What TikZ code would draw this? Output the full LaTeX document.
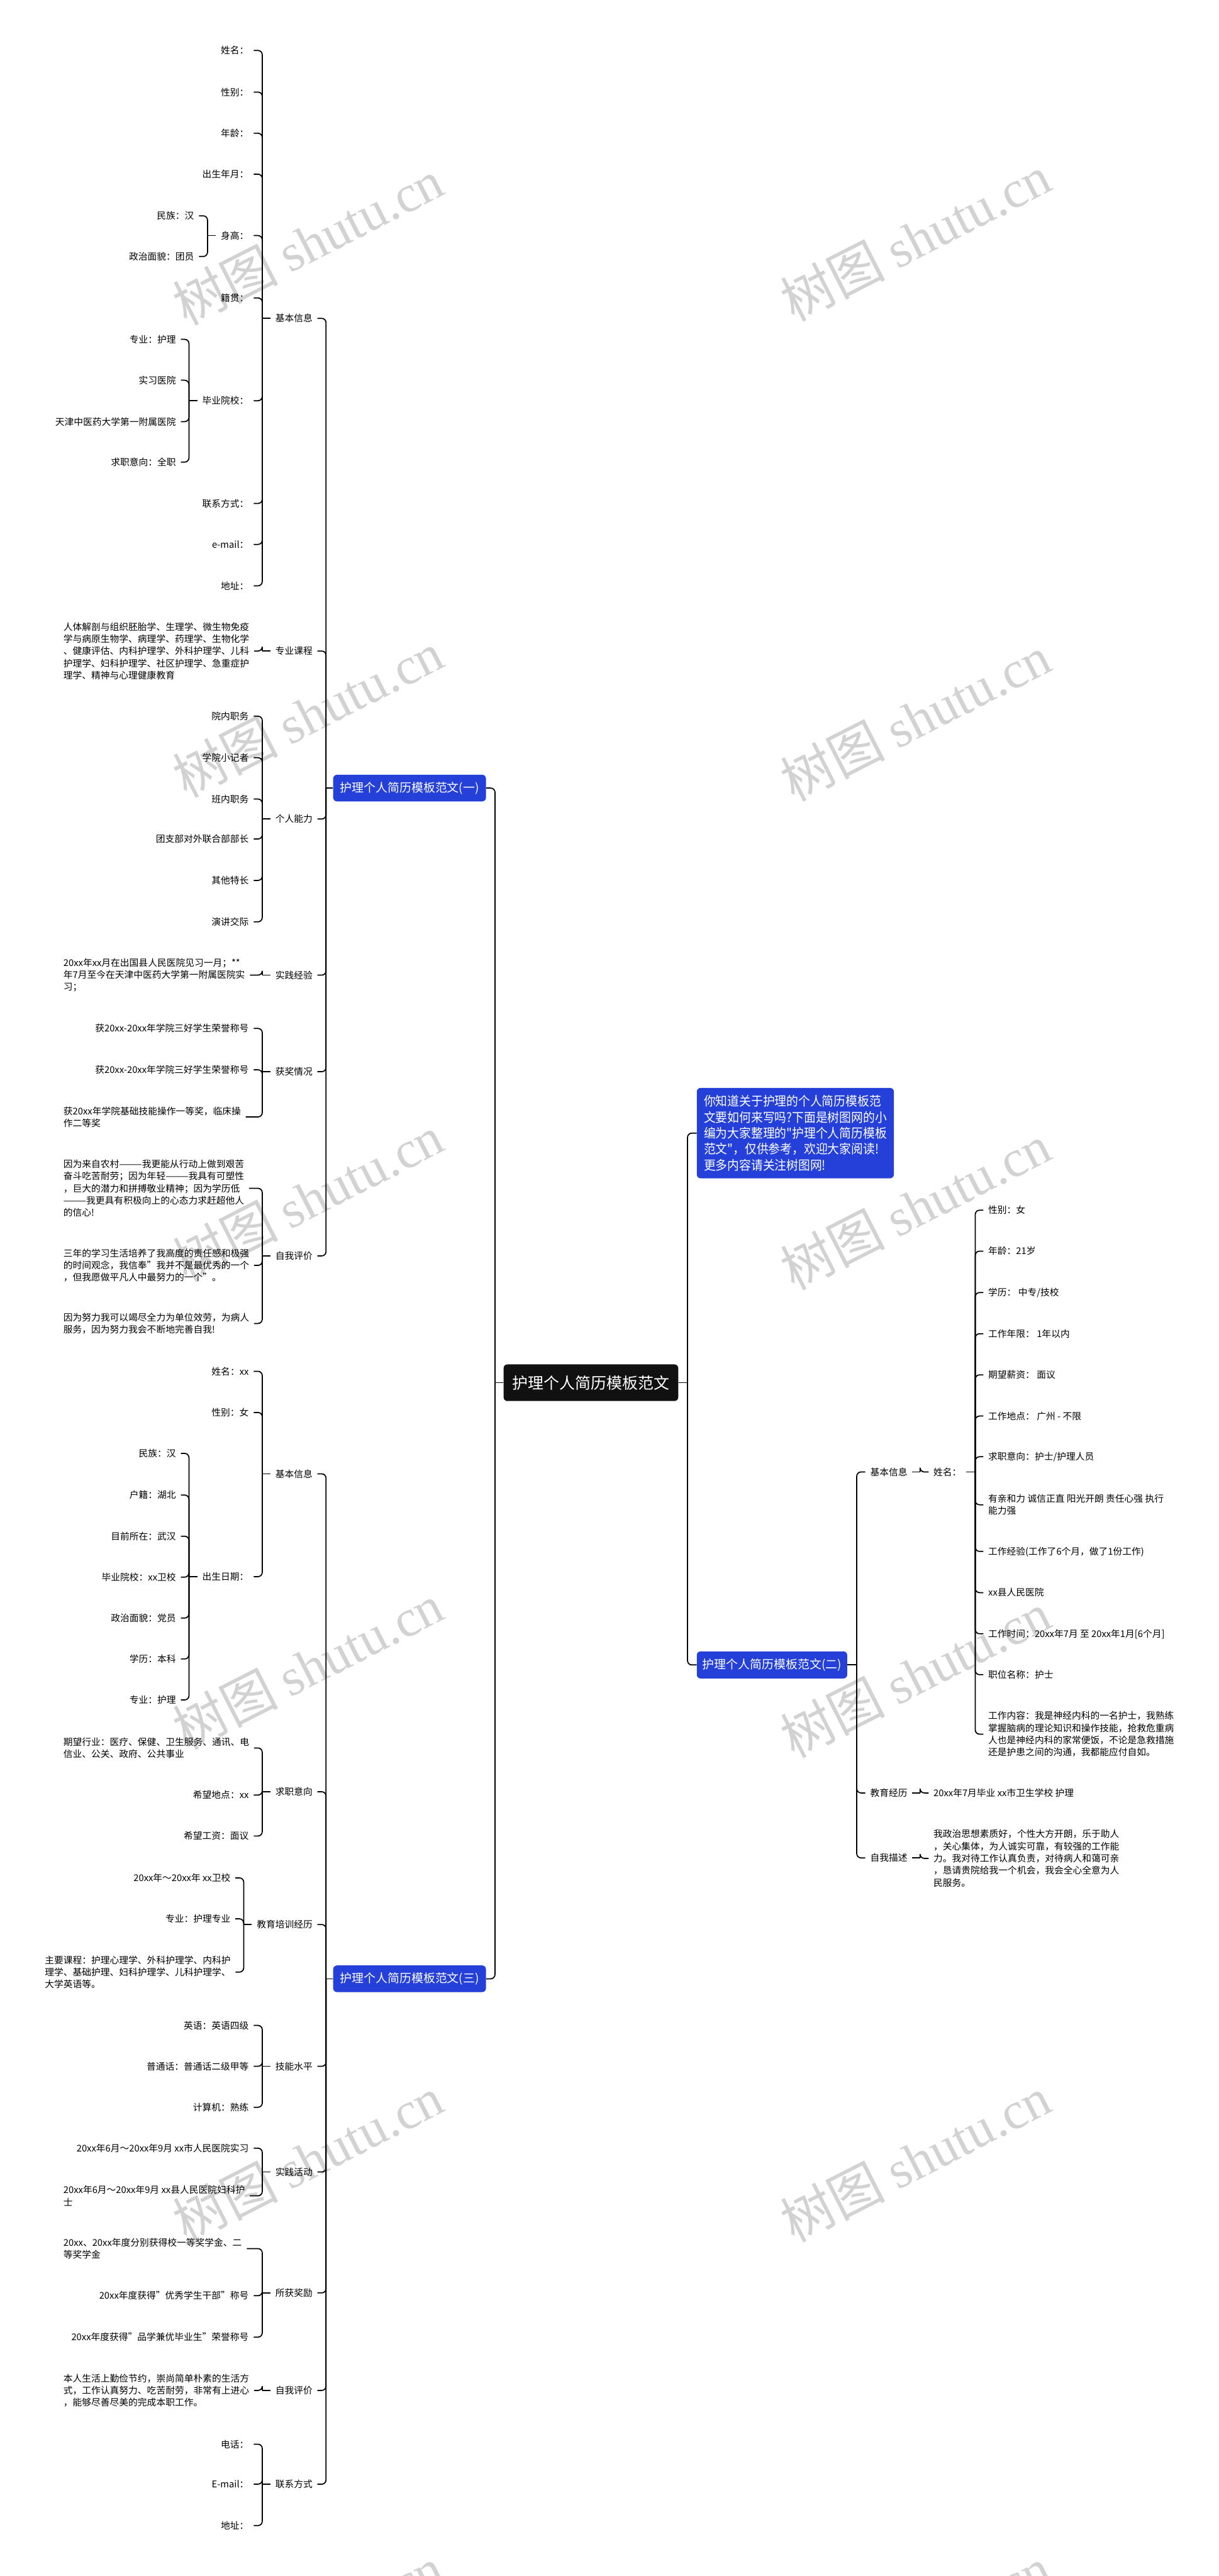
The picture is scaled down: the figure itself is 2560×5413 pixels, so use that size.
\documentclass[tikz,border=0pt]{standalone}
\usepackage{fontspec}
\setmainfont{Noto Sans CJK SC}
\newfontfamily\narrowcjk[FakeStretch=0.92]{Noto Sans CJK SC}
\newfontfamily\wmser{Liberation Serif}
\usetikzlibrary{calc}
\definecolor{boxblue}{HTML}{2440D9}
\definecolor{wmgray}{HTML}{D2D2D2}
\definecolor{rootfill}{HTML}{111111}
\newcommand\lkids[4][10]{%
  \coordinate (sp) at (#3,0);
  \draw[conn] (sp |- #2.west) -- ($(#2.west)+(-#1,0)$);
  \foreach \kid in {#4}{\draw[conn] ($(\kid.east)+(10,0)$) -| (sp |- #2.west);}
}
\newcommand\rkids[4][10]{%
  \coordinate (sp) at (#3,0);
  \draw[conn] ($(#2.east)+(#1,0)$) -- (sp |- #2.east);
  \foreach \kid in {#4}{\draw[conn] ($(\kid.west)+(-10,0)$) -| (sp |- #2.east);}
}
\begin{document}
\begin{tikzpicture}[x=0.5pt,y=-0.5pt,
  conn/.style={line width=1.15pt, rounded corners=4.5pt, black},
  lbl/.style={inner sep=0pt, font=\fontsize{9.75pt}{12.75pt}\selectfont, text height=8.6pt, text depth=1.2pt},
  para/.style={inner sep=0pt, font=\fontsize{9.75pt}{12.75pt}\selectfont, align=left},
  lft/.style={anchor=east}, rgt/.style={anchor=west},
  bbox/.style={fill=boxblue, text=white, rounded corners=4pt, inner sep=0pt, font=\fontsize{12.5pt}{15pt}\selectfont},
  wm/.style={text=wmgray, rotate=27, inner sep=0pt, font=\fontsize{55pt}{60pt}\selectfont}
]
\useasboundingbox (0,0) rectangle (2560,5413);
\clip (0,0) rectangle (2560,5413);
\fill[white] (0,0) rectangle (2560,5413);

% watermarks
\foreach \wx/\wy [count=\i] in {647/509,1923/500,647/1501,1923/1509,647/2518,1923/2536,647/3502,1923/3519,647/4537,1923/4537,647/5525,1923/5525}
  \node[wm] (wm\i) at (\wx,\wy) {树图 {\wmser shutu.cn}};

% ---------- center ----------
\node[fill=rootfill, text=white, rounded corners=4pt, inner sep=0pt, minimum width=183.5pt, minimum height=38.5pt, font=\fontsize{16.5pt}{19pt}\selectfont] (cn) at (1241.5,2905.5) {护理个人简历模板范文};

\node[bbox, minimum width=207pt, minimum height=95pt, align=left, font=\narrowcjk\fontsize{13.5pt}{16.75pt}\selectfont] (intro) at (1671,2381) {你知道关于护理的个人简历模板范\\文要如何来写吗?下面是树图网的小\\编为大家整理的"护理个人简历模板\\范文"，仅供参考，欢迎大家阅读!\\更多内容请关注树图网!};

\node[bbox, minimum width=160.5pt, minimum height=28pt] (b1) at (860.5,1656) {护理个人简历模板范文(一)};
\node[bbox, minimum width=158pt, minimum height=28.5pt] (b2) at (1622,3498.5) {护理个人简历模板范文(二)};
\node[bbox, minimum width=160.5pt, minimum height=28pt] (b3) at (860.5,4158) {护理个人简历模板范文(三)};

\coordinate (lsp) at (1040,0);
\coordinate (rsp) at (1444.5,0);
\draw[conn] (cn.west) -- (lsp |- cn.west);
\draw[conn] (b1.east) -| (lsp |- cn.west);
\draw[conn] (b3.east) -| (lsp |- cn.west);
\draw[conn] (cn.east) -- (rsp |- cn.east);
\draw[conn] (intro.west) -| (rsp |- cn.east);
\draw[conn] (b2.west) -| (rsp |- cn.east);

% ---------- branch 1 ----------
\node[lbl,lft] (a1) at (657,669) {基本信息};
\node[lbl,lft] (a2) at (657,1368) {专业课程};
\node[lbl,lft] (a3) at (657,1721) {个人能力};
\node[lbl,lft] (a4) at (657,2049) {实践经验};
\node[lbl,lft] (a5) at (657,2252) {获奖情况};
\node[lbl,lft] (a6) at (657,2639) {自我评价};
\lkids[0]{b1}{685}{a1,a2,a3,a4,a5,a6}

\node[lbl,lft] (a11) at (523,106) {姓名：};
\node[lbl,lft] (a12) at (523,193.5) {性别：};
\node[lbl,lft] (a13) at (523,280) {年龄：};
\node[lbl,lft] (a14) at (523,366) {出生年月：};
\node[lbl,lft] (a15) at (523,495) {身高：};
\node[lbl,lft] (a16) at (523,626) {籍贯：};
\node[lbl,lft] (a17) at (523,842) {毕业院校：};
\node[lbl,lft] (a18) at (523,1058) {联系方式：};
\node[lbl,lft] (a19) at (523,1144) {e-mail：};
\node[lbl,lft] (a1x) at (523,1231) {地址：};
\lkids{a1}{551}{a11,a12,a13,a14,a15,a16,a17,a18,a19,a1x}

\node[lbl,lft] (a151) at (408,453.5) {民族：汉};
\node[lbl,lft] (a152) at (408,539) {政治面貌：团员};
\lkids{a15}{436}{a151,a152}

\node[lbl,lft] (a171) at (370,713) {专业：护理};
\node[lbl,lft] (a172) at (370,799) {实习医院};
\node[lbl,lft] (a173) at (370,886) {天津中医药大学第一附属医院};
\node[lbl,lft] (a174) at (370,971) {求职意向：全职};
\lkids{a17}{397}{a171,a172,a173,a174}

\node[para,rgt] (a21) at (133,1368) {人体解剖与组织胚胎学、生理学、微生物免疫\\学与病原生物学、病理学、药理学、生物化学\\、健康评估、内科护理学、外科护理学、儿科\\护理学、妇科护理学、社区护理学、急重症护\\理学、精神与心理健康教育};
\lkids{a2}{551}{a21}

\node[lbl,lft] (a31) at (523,1505) {院内职务};
\node[lbl,lft] (a32) at (523,1592) {学院小记者};
\node[lbl,lft] (a33) at (523,1679) {班内职务};
\node[lbl,lft] (a34) at (523,1763) {团支部对外联合部部长};
\node[lbl,lft] (a35) at (523,1850) {其他特长};
\node[lbl,lft] (a36) at (523,1937) {演讲交际};
\lkids{a3}{551}{a31,a32,a33,a34,a35,a36}

\node[para,rgt] (a41) at (133,2049) {20xx年xx月在出国县人民医院见习一月；**\\年7月至今在天津中医药大学第一附属医院实\\习；};
\lkids{a4}{551}{a41}

\node[lbl,lft] (a51) at (523,2161) {获20xx-20xx年学院三好学生荣誉称号};
\node[lbl,lft] (a52) at (523,2248) {获20xx-20xx年学院三好学生荣誉称号};
\node[para,rgt] (a53) at (133,2347) {获20xx年学院基础技能操作一等奖，临床操\\作二等奖};
\lkids{a5}{551}{a51,a52,a53}

\node[para,rgt] (a61) at (133,2497) {因为来自农村———我更能从行动上做到艰苦\\奋斗吃苦耐劳；因为年轻———我具有可塑性\\，巨大的潜力和拼搏敬业精神；因为学历低\\———我更具有积极向上的心态力求赶超他人\\的信心!};
\node[para,rgt] (a62) at (133,2659) {三年的学习生活培养了我高度的责任感和极强\\的时间观念，我信奉"我并不是最优秀的一个\\，但我愿做平凡人中最努力的一个"。};
\node[para,rgt] (a63) at (133,2781) {因为努力我可以竭尽全力为单位效劳，为病人\\服务，因为努力我会不断地完善自我!};
\lkids{a6}{551}{a61,a62,a63}

% ---------- branch 3 ----------
\node[lbl,lft] (c1) at (657,3097) {基本信息};
\node[lbl,lft] (c2) at (657,3765) {求职意向};
\node[lbl,lft] (c3) at (657,4044) {教育培训经历};
\node[lbl,lft] (c4) at (657,4342) {技能水平};
\node[lbl,lft] (c5) at (657,4564) {实践活动};
\node[lbl,lft] (c6) at (657,4818) {所获奖励};
\node[lbl,lft] (c7) at (657,5023) {自我评价};
\node[lbl,lft] (c8) at (657,5220) {联系方式};
\lkids[0]{b3}{685}{c1,c2,c3,c4,c5,c6,c7,c8}

\node[lbl,lft] (c11) at (523,2881.5) {姓名：xx};
\node[lbl,lft] (c12) at (523,2968) {性别：女};
\node[lbl,lft] (c13) at (523,3313) {出生日期：};
\lkids{c1}{551}{c11,c12,c13}

\node[lbl,lft] (c131) at (370,3054) {民族：汉};
\node[lbl,lft] (c132) at (370,3141.5) {户籍：湖北};
\node[lbl,lft] (c133) at (370,3228) {目前所在：武汉};
\node[lbl,lft] (c134) at (370,3314) {毕业院校：xx卫校};
\node[lbl,lft] (c135) at (370,3400) {政治面貌：党员};
\node[lbl,lft] (c136) at (370,3486) {学历：本科};
\node[lbl,lft] (c137) at (370,3572) {专业：护理};
\lkids{c13}{397}{c131,c132,c133,c134,c135,c136,c137}

\node[para,rgt] (c21) at (133,3673) {期望行业：医疗、保健、卫生服务、通讯、电\\信业、公关、政府、公共事业};
\node[lbl,lft] (c22) at (523,3772) {希望地点：xx};
\node[lbl,lft] (c23) at (523,3858) {希望工资：面议};
\lkids{c2}{551}{c21,c22,c23}

\node[lbl,lft] (c31) at (484.5,3946) {20xx年～20xx年 xx卫校};
\node[lbl,lft] (c32) at (484.5,4032) {专业：护理专业};
\node[para,rgt] (c33) at (94,4144) {主要课程：护理心理学、外科护理学、内科护\\理学、基础护理、妇科护理学、儿科护理学、\\大学英语等。};
\lkids{c3}{512}{c31,c32,c33}

\node[lbl,lft] (c41) at (523,4256) {英语：英语四级};
\node[lbl,lft] (c42) at (523,4342) {普通话：普通话二级甲等};
\node[lbl,lft] (c43) at (523,4428) {计算机：熟练};
\lkids{c4}{551}{c41,c42,c43}

\node[lbl,lft] (c51) at (523,4514) {20xx年6月～20xx年9月 xx市人民医院实习};
\node[para,rgt] (c52) at (133,4614) {20xx年6月～20xx年9月 xx县人民医院妇科护\\士};
\lkids{c5}{551}{c51,c52}

\node[para,rgt] (c61) at (133,4725) {20xx、20xx年度分别获得校一等奖学金、二\\等奖学金};
\node[lbl,lft] (c62) at (523,4824) {20xx年度获得"优秀学生干部"称号};
\node[lbl,lft] (c63) at (523,4911) {20xx年度获得"品学兼优毕业生"荣誉称号};
\lkids{c6}{551}{c61,c62,c63}

\node[para,rgt] (c71) at (133,5023) {本人生活上勤俭节约，崇尚简单朴素的生活方\\式，工作认真努力、吃苦耐劳，非常有上进心\\，能够尽善尽美的完成本职工作。};
\lkids{c7}{551}{c71}

\node[lbl,lft] (c81) at (523,5136) {电话：};
\node[lbl,lft] (c82) at (523,5220) {E-mail：};
\node[lbl,lft] (c83) at (523,5307) {地址：};
\lkids{c8}{551}{c81,c82,c83}

% ---------- branch 2 ----------
\node[lbl,rgt] (d1) at (1828,3093) {基本信息};
\node[lbl,rgt] (d2) at (1828,3767.5) {教育经历};
\node[lbl,rgt] (d3) at (1828,3904) {自我描述};
\rkids[0]{b2}{1800}{d1,d2,d3}

\node[lbl,rgt] (d11) at (1961,3093) {姓名：};
\rkids{d1}{1933}{d11}

\node[lbl,rgt] (e1) at (2076,2543) {性别：女};
\node[lbl,rgt] (e2) at (2076,2629) {年龄：21岁};
\node[lbl,rgt] (e3) at (2076,2716) {学历： 中专/技校};
\node[lbl,rgt] (e4) at (2076,2802.5) {工作年限： 1年以内};
\node[lbl,rgt] (e5) at (2076,2889) {期望薪资： 面议};
\node[lbl,rgt] (e6) at (2076,2975.5) {工作地点： 广州 - 不限};
\node[lbl,rgt] (e7) at (2076,3061) {求职意向：护士/护理人员};
\node[para,rgt] (e8) at (2076,3162) {有亲和力 诚信正直 阳光开朗 责任心强 执行\\能力强};
\node[lbl,rgt] (e9) at (2076,3260) {工作经验(工作了6个月，做了1份工作)};
\node[lbl,rgt] (e10) at (2076,3346.6) {xx县人民医院};
\node[lbl,rgt] (e11) at (2076,3433) {工作时间：20xx年7月 至 20xx年1月[6个月]};
\node[lbl,rgt] (e12) at (2076,3519) {职位名称：护士};
\node[para,rgt] (e13) at (2076,3644) {工作内容：我是神经内科的一名护士，我熟练\\掌握脑病的理论知识和操作技能，抢救危重病\\人也是神经内科的家常便饭，不论是急救措施\\还是护患之间的沟通，我都能应付自如。};
\rkids{d11}{2049}{e1,e2,e3,e4,e5,e6,e7,e8,e9,e10,e11,e12,e13}

\node[lbl,rgt] (d21) at (1961,3767.5) {20xx年7月毕业 xx市卫生学校 护理};
\rkids{d2}{1933}{d21}

\node[para,rgt] (d31) at (1961,3905) {我政治思想素质好，个性大方开朗，乐于助人\\，关心集体，为人诚实可靠，有较强的工作能\\力。我对待工作认真负责，对待病人和蔼可亲\\，恳请贵院给我一个机会，我会全心全意为人\\民服务。};
\rkids{d3}{1933}{d31}
\end{tikzpicture}
\end{document}
